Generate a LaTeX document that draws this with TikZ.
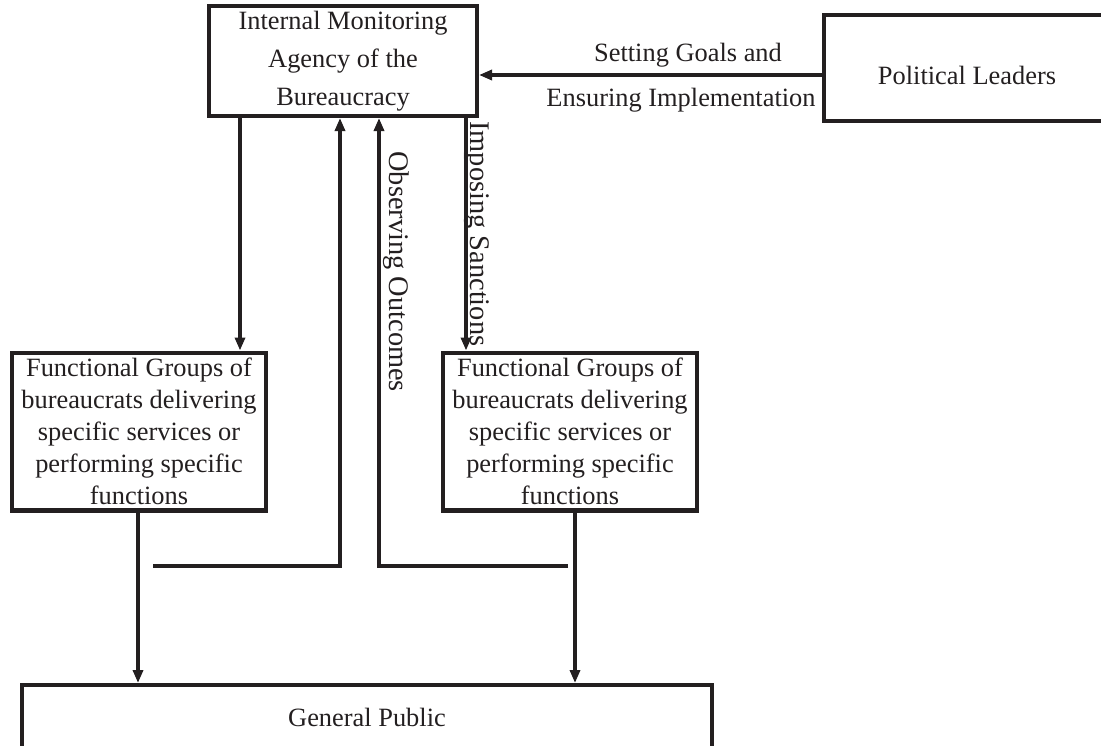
\documentclass[tikz,border=0pt]{standalone}
\usepackage{fontspec}
\setmainfont{Liberation Serif}
\usetikzlibrary{arrows.meta}
\definecolor{ink}{RGB}{35,31,32}
\begin{document}
\begin{tikzpicture}[x=0.5pt,y=-0.5pt,
  every node/.style={text=ink, font=\fontsize{13.2}{16}\selectfont, inner sep=0pt},
  box/.style={draw=ink, line width=2.2pt},
  flow/.style={draw=ink, line width=1.8pt, -{Triangle[length=6.5pt,width=5pt]}},
  vlbl/.style={rotate=-90, anchor=base west, font=\fontsize{14.2}{16}\selectfont}]
\useasboundingbox (0,0) rectangle (1101,745);

% boxes
\node[box, align=center, minimum width=133.8pt, minimum height=54.8pt,
      font=\fontsize{13.2}{19}\selectfont] (agency) at (343,61)
  {Internal Monitoring\\Agency of the\\Bureaucracy};
\node[box, minimum width=142.8pt, minimum height=52.8pt, text height=16pt, text depth=0pt]
  (leaders) at (967,68) {Political Leaders};
\node[box, align=center, minimum width=126.8pt, minimum height=78.8pt] (groupL) at (139,431.5)
  {Functional Groups of\\bureaucrats delivering\\specific services or\\performing specific\\functions};
\node[box, align=center, minimum width=126.8pt, minimum height=78.8pt] (groupR) at (570,431.5)
  {Functional Groups of\\bureaucrats delivering\\specific services or\\performing specific\\functions};
\node[box, anchor=north, minimum width=344.8pt, text height=20.4pt, text depth=60pt] (public) at (367,683)
  {General Public};

% connector columns and rows
\coordinate (xA) at (240,0);
\coordinate (xB) at (466,0);
\coordinate (xC) at (138,0);
\coordinate (xD) at (575,0);
\coordinate (xE) at (340,0);
\coordinate (xF) at (379,0);
\coordinate (yG) at (0,75);
\coordinate (fbL) at (153,566);
\coordinate (fbR) at (568,566);

% connectors
\draw[flow] (leaders.west |- yG) -- (agency.east |- yG);
\draw[flow] (agency.south -| xA) -- (groupL.north -| xA);
\draw[flow] (agency.south -| xB) -- (groupR.north -| xB);
\draw[flow] (groupL.south -| xC) -- (public.north -| xC);
\draw[flow] (groupR.south -| xD) -- (public.north -| xD);
\draw[flow] (fbL) -| (agency.south -| xE);
\draw[flow] (fbR) -| (agency.south -| xF);

% labels
\node (goals) at (688,55) {Setting Goals and};
\node (ensure) at (681,100) {Ensuring Implementation};
\node[vlbl] (observe) at (389,151) {Observing Outcomes};
\node[vlbl] (sanction) at (470,121) {Imposing Sanctions};
\end{tikzpicture}
\end{document}
